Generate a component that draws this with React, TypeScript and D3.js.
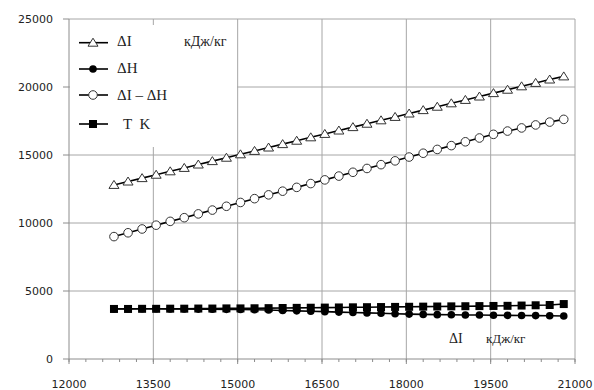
import * as d3 from 'd3';

const X_VALUES = [
  12800, 13050, 13300, 13550, 13800, 14050, 14300, 14550, 14800, 15050, 15300,
  15550, 15800, 16050, 16300, 16550, 16800, 17050, 17300, 17550, 17800, 18050,
  18300, 18550, 18800, 19050, 19300, 19550, 19800, 20050, 20300, 20550, 20800,
];

const DELTA_I = [
  12800, 13050, 13300, 13550, 13800, 14050, 14300, 14550, 14800, 15050, 15300,
  15550, 15800, 16050, 16300, 16550, 16800, 17050, 17300, 17550, 17800, 18050,
  18300, 18550, 18800, 19050, 19300, 19550, 19800, 20050, 20300, 20550, 20780,
];

const DELTA_H = [
  3700, 3700, 3690, 3690, 3680, 3680, 3670, 3660, 3650, 3640, 3620,
  3600, 3570, 3540, 3510, 3480, 3450, 3420, 3390, 3360, 3330, 3300,
  3280, 3260, 3250, 3240, 3230, 3220, 3210, 3200, 3190, 3180, 3160,
];

const DELTA_I_MINUS_H = [
  9000, 9280, 9560, 9840, 10120, 10390, 10670, 10950, 11230, 11510, 11790,
  12070, 12340, 12620, 12900, 13170, 13450, 13730, 14010, 14290, 14570, 14850,
  15130, 15410, 15690, 15970, 16250, 16520, 16760, 16990, 17210, 17420, 17620,
];

const T_K = [
  3680, 3680, 3690, 3690, 3700, 3700, 3710, 3710, 3720, 3720, 3730,
  3740, 3750, 3760, 3770, 3780, 3790, 3800, 3810, 3820, 3830, 3840,
  3850, 3860, 3870, 3880, 3890, 3900, 3910, 3930, 3950, 3970, 4040,
];

const X_TICKS = [12000, 13500, 15000, 16500, 18000, 19500, 21000];
const Y_TICKS = [0, 5000, 10000, 15000, 20000, 25000];

type Marker = 'triangle' | 'dot' | 'circle' | 'square';

const SERIES: { label: string; values: number[]; marker: Marker }[] = [
  { label: 'ΔI', values: DELTA_I, marker: 'triangle' },
  { label: 'ΔH', values: DELTA_H, marker: 'dot' },
  { label: 'ΔI – ΔH', values: DELTA_I_MINUS_H, marker: 'circle' },
  { label: 'T  K', values: T_K, marker: 'square' },
];

const GRID = '#a6a6a6';
const AXIS = '#8c8c8c';
const SERIF = '"Liberation Serif", "Times New Roman", serif';
const SANS = '"DejaVu Sans", Verdana, sans-serif';

function MarkerShape({ type, x, y }: { type: Marker; x: number; y: number }) {
  if (type === 'triangle') {
    const p = `${x},${y - 4.5} ${x + 5},${y + 3.5} ${x - 5},${y + 3.5}`;
    return <polygon points={p} fill="#fff" stroke="#333" strokeWidth={1} />;
  }
  if (type === 'circle') {
    return <circle cx={x} cy={y} r={4.3} fill="#fff" stroke="#333" strokeWidth={1} />;
  }
  if (type === 'dot') {
    return <circle cx={x} cy={y} r={3.8} fill="#000" />;
  }
  return <rect x={x - 4} y={y - 4} width={8} height={8} fill="#000" />;
}

export default function App() {
  const W = 594;
  const H = 390;
  const left = 69;
  const right = 575;
  const top = 19;
  const bottom = 359;

  const x = d3.scaleLinear().domain([12000, 21000]).range([left, right]);
  const y = d3.scaleLinear().domain([0, 25000]).range([bottom, top]);
  const minor = d3.range(12000, 21001, 300);

  const line = d3
    .line<number>()
    .x((_, i) => x(X_VALUES[i]))
    .y((d) => y(d));

  const legendRows = [42.7, 69, 95, 124];
  const legendTextY = [46, 73, 100, 129];

  return (
    <svg
      width={W}
      height={H}
      style={{ position: 'absolute', left: 0, top: 0, background: '#fff' }}
    >
      {/* Grid */}
      {Y_TICKS.filter((t) => t > 0).map((t) => (
        <line key={`gy${t}`} x1={left} x2={right} y1={y(t)} y2={y(t)} stroke={GRID} />
      ))}
      {X_TICKS.filter((t) => t > 12000).map((t) => (
        <line key={`gx${t}`} x1={x(t)} x2={x(t)} y1={top} y2={bottom} stroke={GRID} />
      ))}

      {/* Legend background */}
      <rect x={70} y={25} width={167} height={122} fill="#fff" />

      {/* Axes */}
      <line x1={left} x2={left} y1={top} y2={bottom} stroke={AXIS} />
      <line x1={left} x2={right} y1={bottom} y2={bottom} stroke={AXIS} />
      {Y_TICKS.map((t) => (
        <g key={`yt${t}`}>
          <line x1={left - 6} x2={left} y1={y(t)} y2={y(t)} stroke={AXIS} />
          <text
            x={53}
            y={y(t)}
            textAnchor="end"
            dominantBaseline="central"
            fontSize={11}
            fontFamily={SANS}
            fill="#222"
          >
            {t}
          </text>
        </g>
      ))}
      {minor.map((t) => (
        <line key={`mt${t}`} x1={x(t)} x2={x(t)} y1={bottom} y2={bottom + 3} stroke={AXIS} />
      ))}
      {X_TICKS.map((t) => (
        <g key={`xt${t}`}>
          <line x1={x(t)} x2={x(t)} y1={bottom} y2={bottom + 5} stroke={AXIS} />
          <text x={x(t)} y={388} textAnchor="middle" fontSize={11} fontFamily={SANS} fill="#222">
            {t}
          </text>
        </g>
      ))}

      {/* Series */}
      {SERIES.map((s) => (
        <g key={s.label}>
          <path d={line(s.values) ?? ''} fill="none" stroke="#000" strokeWidth={1.6} />
          {s.values.map((v, i) => (
            <MarkerShape key={i} type={s.marker} x={x(X_VALUES[i])} y={y(v)} />
          ))}
        </g>
      ))}

      {/* Legend */}
      {SERIES.map((s, i) => (
        <g key={`lg${s.label}`}>
          <line x1={79} x2={108} y1={legendRows[i]} y2={legendRows[i]} stroke="#000" strokeWidth={1.6} />
          <MarkerShape type={s.marker} x={93} y={legendRows[i]} />
          <text
            x={s.marker === 'square' ? 123 : 117}
            y={legendTextY[i]}
            fontSize={15}
            fontFamily={SERIF}
            fill="#222"
            style={{ whiteSpace: 'pre' }}
          >
            {s.label}
          </text>
        </g>
      ))}
      <text x={184} y={46} fontSize={14} fontFamily={SERIF} fill="#222">
        кДж/кг
      </text>

      {/* X axis annotation */}
      <text x={449} y={343} fontSize={14} fontFamily={SERIF} fill="#222">
        ΔI
      </text>
      <text x={486} y={343} fontSize={13} fontFamily={SERIF} fill="#222">
        кДж/кг
      </text>
    </svg>
  );
}
